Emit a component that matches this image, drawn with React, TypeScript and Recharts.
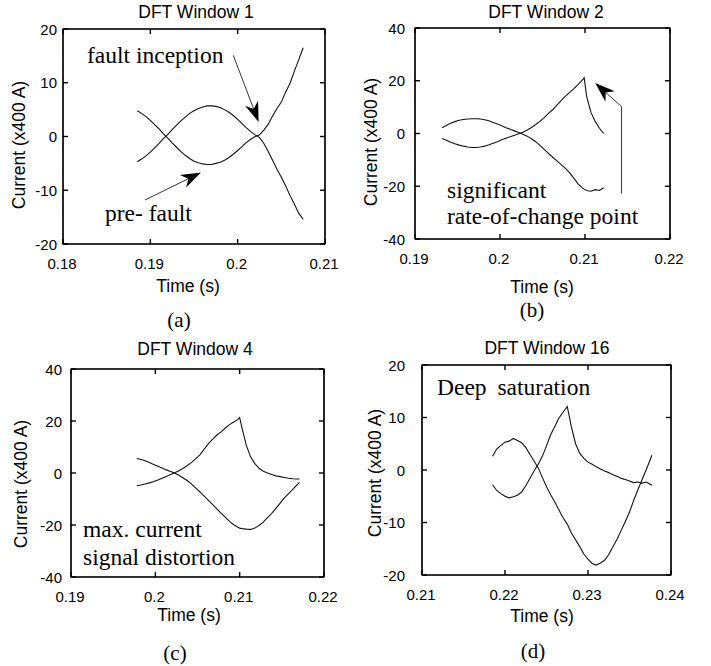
import React from 'react'
import {
  LineChart,
  Line,
  XAxis,
  YAxis,
  ReferenceLine,
} from 'recharts'

// DFT window 1 (a)
const timeA = [
  0.1885, 0.189, 0.1895, 0.19, 0.1905, 0.191, 0.1915, 0.192, 0.1925, 0.193,
  0.1935, 0.194, 0.1945, 0.195, 0.1955, 0.196, 0.1965, 0.197, 0.1975, 0.198,
  0.1985, 0.199, 0.1995, 0.2, 0.2005, 0.201, 0.2015, 0.202, 0.2025, 0.203,
  0.2035, 0.204, 0.2045, 0.205, 0.2055, 0.206, 0.2065, 0.207, 0.2075,
]
const riseA = [
  4.8, 4.3, 3.7, 3.0, 2.2, 1.4, 0.5, -0.3, -1.2, -2.0,
  -2.8, -3.5, -4.1, -4.6, -4.9, -5.1, -5.2, -5.2, -5.0, -4.8,
  -4.4, -3.9, -3.3, -2.6, -1.9, -1.1, -0.5, 0.0, 0.3, 1.2,
  2.3, 3.8, 5.2, 6.4, 8.3, 9.9, 12.2, 14.3, 16.5,
]
const fallA = [
  -4.7, -4.2, -3.6, -2.9, -2.1, -1.3, -0.4, 0.4, 1.3, 2.1,
  2.9, 3.6, 4.3, 4.8, 5.2, 5.5, 5.7, 5.7, 5.6, 5.4,
  5.0, 4.5, 3.9, 3.2, 2.4, 1.6, 0.9, 0.3, -0.2, -1.3,
  -2.8, -4.4, -6.1, -7.6, -9.2, -11.0, -12.6, -14.3, -15.4,
]
const xTicksA = [0.18, 0.19, 0.2, 0.21]
const yTicksA = [-20, -10, 0, 10, 20]

// DFT window 2 (b)
const timeB = [
  0.1932, 0.1937, 0.1942, 0.1947, 0.1952, 0.1957, 0.1962, 0.1967, 0.1972, 0.1977,
  0.1982, 0.1987, 0.1992, 0.1997, 0.2002, 0.2007, 0.2012, 0.2017, 0.2022, 0.2027,
  0.2032, 0.2037, 0.2042, 0.2047, 0.2052, 0.2057, 0.2062, 0.2067, 0.2072, 0.2077,
  0.2082, 0.2087, 0.2092, 0.2097, 0.2099, 0.2102, 0.2107, 0.2112, 0.2117, 0.2122,
]
const fallB = [
  2.2, 3.1, 3.9, 4.5, 5.0, 5.3, 5.5, 5.6, 5.6, 5.5,
  5.2, 4.8, 4.2, 3.6, 2.9, 2.2, 1.6, 1.0, 0.4, -0.3,
  -1.0, -2.0, -3.1, -4.5, -6.0, -7.5, -9.0, -10.4, -11.8, -13.2,
  -14.9, -17.0, -19.2, -20.6, -21.1, -21.6, -21.9, -21.3, -21.6, -20.6,
]
const riseB = [
  -1.9, -2.6, -3.3, -3.9, -4.4, -4.8, -5.1, -5.3, -5.3, -5.1,
  -4.8, -4.3, -3.7, -3.1, -2.4, -1.8, -1.2, -0.7, -0.1, 0.5,
  1.3, 2.3, 3.4, 4.6, 6.0, 7.6, 9.0, 10.8, 12.6, 14.2,
  15.6, 17.0, 18.6, 20.3, 21.2, 14.0, 8.0, 4.6, 2.0, 0.0,
]
const xTicksB = [0.19, 0.2, 0.21, 0.22]
const yTicksB = [-40, -20, 0, 20, 40]

// DFT window 4 (c)
const timeC = [
  0.1978, 0.1983, 0.1988, 0.1993, 0.1998, 0.2003, 0.2008, 0.2013, 0.2018, 0.2023,
  0.2028, 0.2033, 0.2038, 0.2043, 0.2048, 0.2053, 0.2058, 0.2063, 0.2068, 0.2073,
  0.2078, 0.2083, 0.2088, 0.2093, 0.2098, 0.21, 0.2103, 0.2108, 0.2113, 0.2118,
  0.2123, 0.2128, 0.2133, 0.2138, 0.2143, 0.2148, 0.2153, 0.2158, 0.2163, 0.2168,
  0.2171,
]
const fallC = [
  5.6, 5.2, 4.7, 4.0, 3.3, 2.6, 1.9, 1.2, 0.6, 0.0,
  -0.9, -1.9, -3.0, -4.3, -5.8, -7.3, -8.9, -10.5, -12.2, -13.8,
  -15.5, -17.0, -18.6, -19.9, -20.9, -21.2, -21.4, -21.6, -21.7, -21.2,
  -20.2, -18.9, -17.2, -15.5, -13.6, -11.6, -9.6, -7.9, -6.3, -4.6,
  -3.6,
]
const riseC = [
  -4.9, -4.6, -4.2, -3.8, -3.3, -2.7, -2.0, -1.3, -0.6, 0.1,
  0.9, 1.8, 2.9, 4.1, 5.5, 7.1, 9.2, 11.3, 13.0, 14.6,
  15.8, 17.3, 18.6, 19.6, 20.6, 21.3, 17.0, 10.5, 6.2, 3.6,
  1.8, 0.7, 0.0, -0.6, -1.1, -1.4, -1.7, -2.0, -2.2, -2.3,
  -2.3,
]
const xTicksC = [0.19, 0.2, 0.21, 0.22]
const yTicksC = [-40, -20, 0, 20, 40]

// DFT window 16 (d)
const timeD = [
  0.2185, 0.219, 0.2195, 0.22, 0.2205, 0.221, 0.2215, 0.222, 0.2225, 0.223,
  0.2235, 0.224, 0.2245, 0.225, 0.2255, 0.226, 0.2265, 0.227, 0.2275, 0.228,
  0.2285, 0.229, 0.2295, 0.23, 0.2305, 0.231, 0.2315, 0.232, 0.2325, 0.233,
  0.2335, 0.234, 0.2345, 0.235, 0.2355, 0.236, 0.2365, 0.237, 0.2375, 0.2377,
]
const deepD = [
  2.6, 4.0, 4.7, 5.3, 5.5, 6.0, 5.6, 5.2, 4.3, 3.0,
  1.7, 0.4, -1.4, -3.2, -4.7, -6.1, -7.6, -9.1, -10.3, -12.0,
  -13.3, -14.6, -16.0, -17.0, -17.8, -18.1, -17.7, -17.2, -16.1, -14.6,
  -13.2, -11.5, -9.8, -8.0, -5.8, -3.8, -1.9, 0.0, 2.0, 2.8,
]
const peakD = [
  -2.8, -3.9, -4.5, -5.0, -5.3, -5.1, -4.8, -4.2, -3.0, -1.6,
  -0.2, 1.1, 2.6, 4.6, 6.7, 8.3, 9.9, 11.0, 12.1, 8.2,
  5.0, 3.2, 2.2, 1.5, 1.1, 0.6, 0.2, -0.2, -0.5, -0.9,
  -1.2, -1.6, -1.8, -2.1, -2.4, -2.3, -2.5, -2.3, -2.7, -2.9,
]
const xTicksD = [0.21, 0.22, 0.23, 0.24]
const yTicksD = [-20, -10, 0, 10, 20]

const SANS = "'Liberation Sans', Arial, sans-serif"
const SERIF = "'Liberation Serif', 'Times New Roman', serif"
const YW = 60
const MT = 10
const MR = 30
const XH = 40
const FRAME = 1.2

// plot boxes of the four panels (page pixels)
const boxes = [
  { left: 63, top: 29, w: 262, h: 215 },
  { left: 415, top: 28, w: 255, h: 211 },
  { left: 71, top: 369, w: 253, h: 208 },
  { left: 422, top: 365, w: 249, h: 210 },
]

// matlab style ticks: short marks pointing inward on both sides of the box
const makeXTick = (h: number) => (props: any) => {
  const { x, y, payload } = props
  return (
    <g>
      <line x1={x} y1={y} x2={x} y2={y - 5} stroke="#000" strokeWidth={1.4} />
      <line x1={x} y1={y - h} x2={x} y2={y - h + 5} stroke="#000" strokeWidth={1.4} />
      <text x={x - 1} y={y + 25} textAnchor="middle" fontSize={15} fontFamily={SANS} fill="#000">
        {String(payload.value)}
      </text>
    </g>
  )
}

const makeYTick = (w: number, gap: number) => (props: any) => {
  const { x, y, payload } = props
  return (
    <g>
      <line x1={x} y1={y} x2={x + 5} y2={y} stroke="#000" strokeWidth={1.4} />
      <line x1={x + w} y1={y} x2={x + w - 5} y2={y} stroke="#000" strokeWidth={1.4} />
      <text x={x - gap} y={y + 5.5} textAnchor="end" fontSize={15} fontFamily={SANS} fill="#000">
        {String(payload.value)}
      </text>
    </g>
  )
}

const arrowShape = (props: any) => {
  const { x1, y1, x2, y2 } = props
  const dx = x2 - x1
  const dy = y2 - y1
  const len = Math.sqrt(dx * dx + dy * dy) || 1
  const ux = dx / len
  const uy = dy / len
  const L = 20
  const W = 7
  const bx = x2 - ux * L
  const by = y2 - uy * L
  const nx = x2 - ux * L * 0.7
  const ny = y2 - uy * L * 0.7
  const pts = [
    [x2, y2],
    [bx - uy * W, by + ux * W],
    [nx, ny],
    [bx + uy * W, by - ux * W],
  ]
  return (
    <g>
      <line x1={x1} y1={y1} x2={nx} y2={ny} stroke="#000" strokeWidth={0.8} />
      <polygon points={pts.map((p) => p.join(',')).join(' ')} fill="#000" />
    </g>
  )
}

type Seg = { from: [number, number]; to: [number, number]; head: boolean }

type PanelProps = {
  box: { left: number; top: number; w: number; h: number }
  gap: number
  time: number[]
  s1: number[]
  s2: number[]
  xTicks: number[]
  yTicks: number[]
  segs: Seg[]
}

function Panel({ box, gap, time, s1, s2, xTicks, yTicks, segs }: PanelProps) {
  const { left, top, w, h } = box
  const data = time.map((t, i) => ({ t, s1: s1[i], s2: s2[i] }))
  const xd: [number, number] = [xTicks[0], xTicks[xTicks.length - 1]]
  const yd: [number, number] = [yTicks[0], yTicks[yTicks.length - 1]]
  return (
    <div style={{ position: 'absolute', left: left - YW, top: top - MT }}>
      <LineChart
        width={YW + w + MR}
        height={MT + h + XH}
        data={data}
        margin={{ top: MT, right: MR, bottom: 0, left: 0 }}
      >
        <XAxis
          dataKey="t"
          type="number"
          domain={xd}
          ticks={xTicks}
          interval={0}
          height={XH}
          tickSize={0}
          tickMargin={0}
          axisLine={{ stroke: '#000', strokeWidth: FRAME }}
          tickLine={false}
          tick={makeXTick(h)}
          allowDataOverflow
        />
        <YAxis
          type="number"
          domain={yd}
          ticks={yTicks}
          interval={0}
          width={YW}
          tickSize={0}
          tickMargin={0}
          axisLine={{ stroke: '#000', strokeWidth: FRAME }}
          tickLine={false}
          tick={makeYTick(w, gap)}
          allowDataOverflow
        />
        <ReferenceLine x={xd[1]} stroke="#000" strokeWidth={FRAME} ifOverflow="extendDomain" />
        <ReferenceLine y={yd[1]} stroke="#000" strokeWidth={FRAME} ifOverflow="extendDomain" />
        <Line dataKey="s1" type="linear" stroke="#111" strokeWidth={1.1} dot={false} isAnimationActive={false} />
        <Line dataKey="s2" type="linear" stroke="#111" strokeWidth={1.1} dot={false} isAnimationActive={false} />
        {segs.map((s, i) => (
          <ReferenceLine
            key={i}
            segment={[{ x: s.from[0], y: s.from[1] }, { x: s.to[0], y: s.to[1] }]}
            stroke="#000"
            strokeWidth={0.8}
            shape={s.head ? arrowShape : undefined}
          />
        ))}
      </LineChart>
    </div>
  )
}

function Txt({ x, y, size, serif, anchor, children, ws }: any) {
  return (
    <text
      x={x}
      y={y}
      fontSize={size}
      fontFamily={serif ? SERIF : SANS}
      textAnchor={anchor || 'start'}
      fill="#000"
      style={ws ? { wordSpacing: ws } : undefined}
    >
      {children}
    </text>
  )
}

function YLabel({ x, y }: { x: number; y: number }) {
  return (
    <text transform={`translate(${x},${y}) rotate(-90)`} textAnchor="middle" fontSize={17.5} fontFamily={SANS} fill="#000">
      Current (x400 A)
    </text>
  )
}

export default function App() {
  return (
    <div style={{ position: 'absolute', left: 0, top: 0, width: 711, height: 666, background: '#fff' }}>
      <Panel
        box={boxes[0]} gap={6}
        time={timeA} s1={riseA} s2={fallA} xTicks={xTicksA} yTicks={yTicksA}
        segs={[
          { from: [0.1995, 15.1], to: [0.2024, 2.7], head: true },
          { from: [0.1894, -11.8], to: [0.1958, -6.7], head: true },
        ]}
      />
      <Panel
        box={boxes[1]} gap={10}
        time={timeB} s1={fallB} s2={riseB} xTicks={xTicksB} yTicks={yTicksB}
        segs={[
          { from: [0.2143, -22.7], to: [0.2143, 10.2], head: false },
          { from: [0.2143, 10.2], to: [0.2112, 19.1], head: true },
        ]}
      />
      <Panel
        box={boxes[2]} gap={9}
        time={timeC} s1={fallC} s2={riseC} xTicks={xTicksC} yTicks={yTicksC}
        segs={[]}
      />
      <Panel
        box={boxes[3]} gap={17}
        time={timeD} s1={deepD} s2={peakD} xTicks={xTicksD} yTicks={yTicksD}
        segs={[]}
      />
      <svg width={711} height={666} style={{ position: 'absolute', left: 0, top: 0, pointerEvents: 'none' }}>
        {boxes.map((b, i) => (
          <rect key={i} x={b.left} y={b.top} width={b.w} height={b.h} fill="none" stroke="#000" strokeWidth={1.2} />
        ))}

        <Txt x={196} y={18} size={17.5} anchor="middle">DFT Window 1</Txt>
        <Txt x={546} y={17.5} size={17.5} anchor="middle">DFT Window 2</Txt>
        <Txt x={195} y={355} size={17.5} anchor="middle">DFT Window 4</Txt>
        <Txt x={547} y={354} size={17.5} anchor="middle">DFT Window 16</Txt>

        <Txt x={188} y={292} size={17.5} anchor="middle">Time (s)</Txt>
        <Txt x={542} y={293} size={17.5} anchor="middle">Time (s)</Txt>
        <Txt x={189} y={621} size={17.5} anchor="middle">Time (s)</Txt>
        <Txt x={542} y={622} size={17.5} anchor="middle">Time (s)</Txt>

        <YLabel x={25} y={145} />
        <YLabel x={377} y={142} />
        <YLabel x={27} y={484} />
        <YLabel x={381} y={473} />

        <Txt x={87} y={63} size={23.5} serif>fault inception</Txt>
        <Txt x={105} y={221} size={23.5} serif>pre- fault</Txt>
        <Txt x={447} y={198} size={23.5} serif>significant</Txt>
        <Txt x={447} y={224} size={23.5} serif>rate-of-change point</Txt>
        <Txt x={83} y={537} size={23.5} serif>max. current</Txt>
        <Txt x={83} y={565} size={23.5} serif>signal distortion</Txt>
        <Txt x={437} y={395} size={23.5} serif ws={5}>Deep saturation</Txt>

        <Txt x={179} y={327} size={21} serif anchor="middle">(a)</Txt>
        <Txt x={532} y={317} size={21} serif anchor="middle">(b)</Txt>
        <Txt x={175} y={660} size={21} serif anchor="middle">(c)</Txt>
        <Txt x={533} y={658} size={21} serif anchor="middle">(d)</Txt>
      </svg>
    </div>
  )
}
